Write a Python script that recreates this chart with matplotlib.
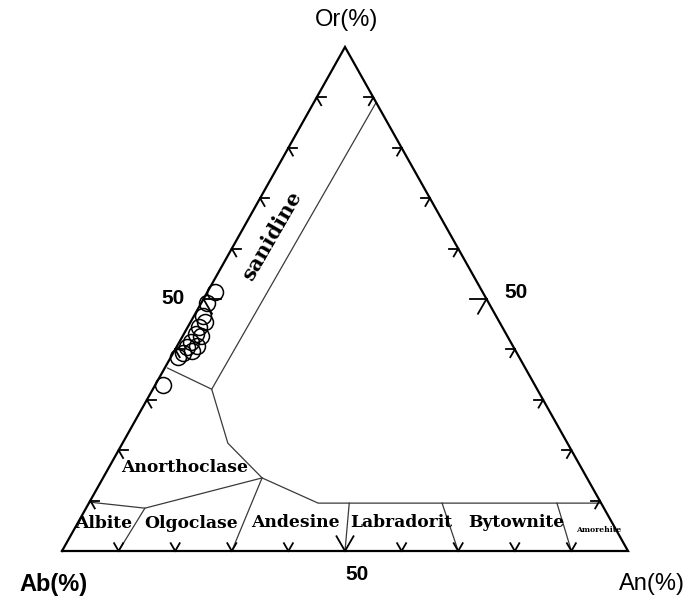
import numpy as np
import matplotlib
matplotlib.use("Agg")
import matplotlib.pyplot as plt

# Feldspar analyses (mol %), Or and An; Ab = 100 - Or - An
sample_or = [51.4, 49.2, 46.6, 45.4, 44.4, 43.1, 42.7, 41.5, 40.7, 40.5, 39.7, 39.3, 38.5, 32.9]
sample_an = [1.3, 1.0, 1.6, 2.6, 2.0, 2.1, 3.2, 2.0, 3.5, 1.8, 3.1, 1.7, 1.2, 1.4]

# Field boundaries as (An, Or) vertices, in %
sanidine_boundary = [(11, 89), (10.4, 32.1), (18.6, 21.4), (28.1, 14.5), (40.5, 9.5), (90.5, 9.5)]
sanidine_left = [(0.5, 36.3), (10.4, 32.1)]
anorthoclase_lower = [(0, 9.7), (10.4, 8.5), (28.1, 14.5)]
plagioclase_dividers = [
    [(10.4, 8.5), (10, 0)],
    [(28.1, 14.5), (30, 0)],
    [(46, 9.5), (50, 0)],
    [(62.4, 9.5), (70, 0)],
    [(82.7, 9.5), (90, 0)],
]

field_names = ["Anorthoclase", "Albite", "Olgoclase", "Andesine", "Labradorit", "Bytownite"]
field_an = [13.5, 4.7, 20.1, 38.4, 57.1, 77.4]
field_or = [16.5, 5.4, 5.4, 5.6, 5.6, 5.6]

tick_values = [10, 20, 30, 40, 50, 60, 70, 80, 90]

H = np.sqrt(3) / 2


def tern(an, orth):
    an = np.asarray(an, dtype=float) / 100.0
    orth = np.asarray(orth, dtype=float) / 100.0
    return an + orth / 2.0, orth * H


W, Hpx = 693, 602
fig = plt.figure(figsize=(W / 100, Hpx / 100), dpi=100)
fig.patch.set_facecolor("white")
ax = fig.add_axes([62 / W, 51 / Hpx, 566 / W, 504 / Hpx])
ax.set_xlim(0, 1)
ax.set_ylim(0, H)
ax.axis("off")


def fig_xy(px, py):
    return px / W, 1 - py / Hpx


# triangle frame
tx, ty = tern([0, 100, 0, 0], [0, 0, 100, 0])
ax.plot(tx, ty, color="black", lw=1.6, solid_joinstyle="miter", clip_on=False, zorder=3)

# field boundaries
bcol = "#3a3a3a"
for seg in [sanidine_boundary, sanidine_left, anorthoclase_lower] + plagioclase_dividers:
    a = [p[0] for p in seg]
    o = [p[1] for p in seg]
    x, y = tern(a, o)
    ax.plot(x, y, color=bcol, lw=0.9, clip_on=False, zorder=2)


def arms(an, orth, angles, length, lw=1.3):
    x, y = tern(an, orth)
    p = ax.transData.transform((x, y))
    inv = ax.transData.inverted()
    for ang in angles:
        q = p + length * np.array([np.cos(np.radians(ang)), np.sin(np.radians(ang))])
        qx, qy = inv.transform(q)
        ax.plot([x, qx], [y, qy], color="black", lw=lw, clip_on=False, zorder=3)


for v in tick_values:
    big = v == 50
    L = 17 if big else 9
    # bottom edge (Ab-An)
    arms(v, 0, [60, 120], L)
    # right edge (An-Or)
    arms(100 - v, v, [180, 240], L)
    # left edge (Ab-Or)
    arms(0, v, [0, 300], L)

# samples
sx, sy = tern(sample_an, sample_or)
ax.plot(sx, sy, linestyle="none", marker="o", markersize=11.5, markerfacecolor="none",
        markeredgecolor="black", markeredgewidth=1.1, clip_on=False, zorder=4)

# field labels
for name, a, o in zip(field_names, field_an, field_or):
    x, y = tern(a, o)
    ax.text(x, y, name, family="DejaVu Serif", fontweight="bold", fontsize=12.3,
            ha="center", va="center", zorder=5)
x, y = tern(92.8, 4.2)
ax.text(x, y, "Amorehite", family="DejaVu Serif", fontweight="bold", fontsize=5.5,
        ha="center", va="center")
x, y = tern(5.9, 62.5)
ax.text(x, y, "sanidine", family="DejaVu Serif", fontweight="bold", fontsize=15,
        rotation=60, ha="center", va="center")

# apex labels and scale values
sans = "Liberation Sans"
fig.text(*fig_xy(347, 20), "Or(%)", family=sans, fontsize=17, ha="center", va="center")
fig.text(*fig_xy(53, 584), "Ab(%)", family=sans, fontsize=17, fontweight="bold",
         ha="center", va="center")
fig.text(*fig_xy(652, 584), "An(%)", family=sans, fontsize=17, ha="center", va="center")
fig.text(*fig_xy(357, 574), "50", family=sans, fontsize=15, fontweight="bold",
         ha="center", va="center")
fig.text(*fig_xy(173, 298), "50", family=sans, fontsize=15, fontweight="bold",
         ha="center", va="center")
fig.text(*fig_xy(516, 292), "50", family=sans, fontsize=15, fontweight="bold",
         ha="center", va="center")

fig.savefig("out.png", dpi=100, facecolor="white")
